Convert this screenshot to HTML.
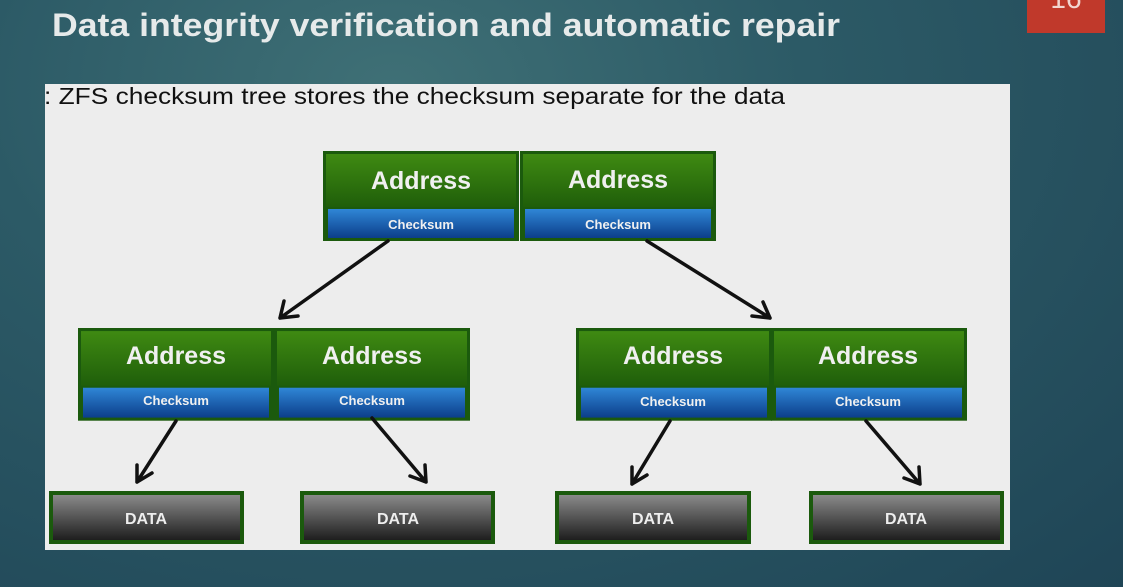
<!DOCTYPE html>
<html><head><meta charset="utf-8"><style>
html,body{margin:0;padding:0;width:1123px;height:587px;overflow:hidden;}
body{background:radial-gradient(ellipse at 35% 15%, #3f7076 0%, #2c5a66 40%, #1f4556 100%);}
svg{display:block;}
text{font-family:"Liberation Sans",sans-serif;}
</style></head><body>
<svg width="1123" height="587" viewBox="0 0 1123 587">
<defs>
<linearGradient id="g" x1="0" y1="0" x2="0" y2="1"><stop offset="0" stop-color="#3f8a12"/><stop offset="1" stop-color="#1f5e0a"/></linearGradient>
<linearGradient id="b" x1="0" y1="0" x2="0" y2="1"><stop offset="0" stop-color="#2f86d6"/><stop offset="1" stop-color="#0c3e8a"/></linearGradient>
<linearGradient id="d" x1="0" y1="0" x2="0" y2="1"><stop offset="0" stop-color="#8a8a8a"/><stop offset="1" stop-color="#1e1e1e"/></linearGradient>
<g id="half">
<rect x="0" y="0" width="196" height="90" fill="#1b5a0d"/>
<rect x="3" y="3" width="190" height="53" fill="url(#g)"/>
<rect x="5" y="58" width="186" height="29" fill="url(#b)"/>
</g>
</defs>
<rect x="1027" y="0" width="78" height="33" fill="#c0392b"/>
<text x="1066" y="8" font-size="28" fill="#f2d6d0" text-anchor="middle">16</text>
<text x="52" y="36" font-size="32" font-weight="bold" fill="#e6eaea" textLength="788" lengthAdjust="spacingAndGlyphs">Data integrity verification and automatic repair</text>
<rect x="45" y="84" width="965" height="466" fill="#ededed"/>
<text x="44" y="104" font-size="23" fill="#111" textLength="741" lengthAdjust="spacingAndGlyphs">: ZFS checksum tree stores the checksum separate for the data</text>

<g font-weight="bold" text-anchor="middle" fill="#f0f0f0">
<use href="#half" x="323" y="151"/><use href="#half" x="520" y="151"/>
<text x="421" y="189" font-size="25">Address</text><text x="618" y="188" font-size="25">Address</text>
<text x="421" y="229" font-size="13">Checksum</text><text x="618" y="229" font-size="13">Checksum</text>

<use href="#half" x="78" y="328" transform="translate(78,328) scale(1,1.03) translate(-78,-328)"/>
<use href="#half" x="274" y="328" transform="translate(274,328) scale(1,1.03) translate(-274,-328)"/>
<text x="176" y="364" font-size="25">Address</text><text x="372" y="364" font-size="25">Address</text>
<text x="176" y="405" font-size="13">Checksum</text><text x="372" y="405" font-size="13">Checksum</text>

<use href="#half" x="576" y="328" transform="translate(576,328) scale(1,1.03) translate(-576,-328)"/>
<use href="#half" x="771" y="328" transform="translate(771,328) scale(1,1.03) translate(-771,-328)"/>
<text x="673" y="364" font-size="25">Address</text><text x="868" y="364" font-size="25">Address</text>
<text x="673" y="406" font-size="13">Checksum</text><text x="868" y="406" font-size="13">Checksum</text>
</g>

<g>
<rect x="49" y="491" width="195" height="53" fill="#1b5a0d"/><rect x="53" y="495" width="187" height="45" fill="url(#d)"/>
<rect x="300" y="491" width="195" height="53" fill="#1b5a0d"/><rect x="304" y="495" width="187" height="45" fill="url(#d)"/>
<rect x="555" y="491" width="196" height="53" fill="#1b5a0d"/><rect x="559" y="495" width="188" height="45" fill="url(#d)"/>
<rect x="809" y="491" width="195" height="53" fill="#1b5a0d"/><rect x="813" y="495" width="187" height="45" fill="url(#d)"/>
</g>
<g font-weight="bold" text-anchor="middle" fill="#eee" font-size="16">
<text x="146" y="524">DATA</text><text x="398" y="524">DATA</text><text x="653" y="524">DATA</text><text x="906" y="524">DATA</text>
</g>

<g stroke="#111" stroke-width="3.5" fill="none" stroke-linecap="round" stroke-linejoin="round">
<path d="M388,241 L280,318 M280,318 L284,301 M280,318 L298,316"/>
<path d="M647,241 L770,318 M770,318 L752,316 M770,318 L763,302"/>
<path d="M176,421 L137,482 M137,482 L137,465 M137,482 L152,473"/>
<path d="M372,418 L426,482 M426,482 L410,476 M426,482 L425,465"/>
<path d="M670,421 L632,484 M632,484 L632,467 M632,484 L647,475"/>
<path d="M866,421 L920,484 M920,484 L904,478 M920,484 L919,467"/>
</g>
</svg>
</body></html>
